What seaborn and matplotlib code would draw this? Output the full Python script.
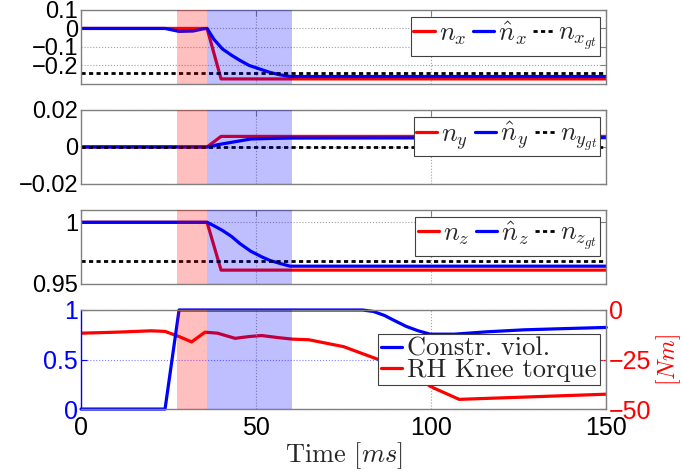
import numpy as np
import pandas as pd
import matplotlib
matplotlib.use("Agg")
import matplotlib.pyplot as plt
import seaborn as sns

# ---- data ----
t_nx = [0, 36, 40, 150]
nx = [0, 0, -0.273, -0.273]
t_nx_hat = [0, 24, 28, 32, 35, 36, 38, 40.4, 43, 45.4, 48, 51.6, 54, 56.6, 59.7, 150]
nx_hat = [0, 0, -0.016, -0.014, -0.002, 0, -0.06, -0.111, -0.145, -0.173, -0.2,
          -0.223, -0.238, -0.25, -0.26, -0.26]
nx_gt = -0.242

t_ny = [0, 36, 40, 150]
ny = [0, 0, 0.0057, 0.0057]
t_ny_hat = [0, 36.5, 39, 43, 48.5, 54, 60, 150]
ny_hat = [0, 0, 0.0012, 0.0025, 0.0043, 0.0046, 0.0048, 0.005]
ny_gt = 0.0

t_nz = [0, 36, 40, 150]
nz = [1, 1, 0.9612, 0.9612]
t_nz_hat = [0, 36, 37.9, 40.4, 43, 45.4, 48.5, 51.6, 54, 56.6, 59.7, 150]
nz_hat = [1, 1, 0.9973, 0.9934, 0.9885, 0.9827, 0.9765, 0.972, 0.969, 0.9668, 0.9644, 0.9644]
nz_gt = 0.969

t_viol = [0, 24, 28, 80.4, 83.5, 86.6, 89.7, 92.9, 96.3, 99.7, 106.6, 116, 126.6, 138, 150]
viol = [0, 0, 1, 1, 0.985, 0.946, 0.89, 0.834, 0.79, 0.756, 0.756, 0.78, 0.8, 0.812, 0.824]

t_tau = [0, 10, 20, 24, 28, 31.6, 35.4, 39, 44, 48, 51.6, 56.6, 60.4, 65, 75, 86.6,
         96.6, 100, 108, 150]
tau = [-11.7, -11.2, -10.5, -10.8, -13.4, -16.1, -11.2, -11.7, -14.3, -13.4, -12.9,
       -14, -14.7, -15, -18.5, -26.1, -34.6, -38.8, -45.1, -42.5]

contact_span = (27.5, 36)
adapt_span = (36, 60.3)

x_ticks = [0, 50, 100, 150]
x_ticklabels = ["0", "50", "100", "150"]
y1_ticks = [-0.2, -0.1, 0, 0.1]
y1_labels = ["\u22120.2", "\u22120.1", "0", "0.1"]
y2_ticks = [-0.02, 0, 0.02]
y2_labels = ["\u22120.02", "0", "0.02"]
y3_ticks = [0.95, 1]
y3_labels = ["0.95", "1"]
y4_ticks = [0, 0.5, 1]
y4_labels = ["0", "0.5", "1"]
y4r_ticks = [-50, -25, 0]
y4r_labels = ["\u221250", "\u221225", "0"]

# ---- style ----
sns.set_style("white")
plt.rcParams["font.family"] = ["Liberation Sans", "DejaVu Sans"]
plt.rcParams["mathtext.fontset"] = "cm"

LW = 2.3
TICK_FS = 17
fig = plt.figure(figsize=(6.83, 4.74), dpi=100)

left, width = 0.1186, 0.769
ax1 = fig.add_axes([left, 0.823, width, 0.156])
ax2 = fig.add_axes([left, 0.612, width, 0.156])
ax3 = fig.add_axes([left, 0.401, width, 0.156])
ax4 = fig.add_axes([left, 0.137, width, 0.209])

panels = [
    (ax1, t_nx, nx, t_nx_hat, nx_hat, nx_gt, "x", (-0.3, 0.1), y1_ticks, y1_labels),
    (ax2, t_ny, ny, t_ny_hat, ny_hat, ny_gt, "y", (-0.02, 0.02), y2_ticks, y2_labels),
    (ax3, t_nz, nz, t_nz_hat, nz_hat, nz_gt, "z", (0.95, 1.01), y3_ticks, y3_labels),
]

for ax, t_a, a, t_b, b, gt, c, ylim, yt, yl in panels:
    ax.grid(True, linestyle=":", color="#a0a0a0", linewidth=0.8)
    sns.lineplot(x=t_a, y=a, ax=ax, color="red", linewidth=LW, label=rf"$n_{c}$")
    sns.lineplot(x=t_b, y=b, ax=ax, color="blue", linewidth=LW, label=rf"$\hat{{n}}_{c}$")
    ax.axhline(gt, color="black", linestyle=(0, (1.5, 1.2)), linewidth=2,
               label=rf"$n_{{{c}_{{gt}}}}$")
    ax.axvspan(*contact_span, color="red", alpha=0.25, lw=0, zorder=3)
    ax.axvspan(*adapt_span, color="blue", alpha=0.25, lw=0, zorder=3)
    ax.set_xlim(0, 150)
    ax.set_ylim(*ylim)
    ax.set_yticks(yt)
    ax.set_yticklabels(yl)
    ax.set_xticks(x_ticks)
    ax.set_xticklabels([])
    ax.tick_params(direction="in", length=4, labelsize=TICK_FS, pad=2,
                   top=True, right=True, colors="#808080", labelcolor="black")
    for s in ax.spines.values():
        s.set_color("#808080")
        s.set_linewidth(1)
    ax.set_xlabel("")
    ax.set_ylabel("")
    leg = ax.legend(loc="upper right", ncol=3, fontsize=19, handlelength=0.8,
                    handletextpad=0.15, columnspacing=0.25, borderpad=0.1,
                    borderaxespad=0.25, fancybox=False, framealpha=1,
                    edgecolor="#404040")
    leg.get_frame().set_linewidth(0.8)

# ---- bottom panel ----
ax4.grid(True, axis="x", linestyle=":", color="#a0a0a0", linewidth=0.8)
ax4.grid(True, axis="y", linestyle=":", color="#8080ff", linewidth=0.8)
sns.lineplot(x=t_viol, y=viol, ax=ax4, color="blue", linewidth=LW, label="Constr. viol.")
ax4.lines[-1].set_clip_on(False)
ax4.axvspan(*contact_span, color="red", alpha=0.25, lw=0, zorder=3)
ax4.axvspan(*adapt_span, color="blue", alpha=0.25, lw=0, zorder=3)
ax4.set_xlim(0, 150)
ax4.set_ylim(0, 1)
ax4.set_yticks(y4_ticks)
ax4.set_yticklabels(y4_labels)
ax4.set_xticks(x_ticks)
ax4.set_xticklabels(x_ticklabels)
ax4.tick_params(direction="in", length=4, labelsize=TICK_FS + 1, pad=2)
ax4.tick_params(axis="y", colors="blue")
ax4.tick_params(axis="x", colors="#808080", labelcolor="black", pad=5)
ax4.set_ylabel("")
ax4.set_xlabel(r"Time [$ms$]", fontfamily="cmr10", fontsize=19, labelpad=0)
for s in ax4.spines.values():
    s.set_color("#808080")
    s.set_linewidth(1)
ax4.spines["left"].set_color("blue")

ax4r = ax4.twinx()
sns.lineplot(x=t_tau, y=tau, ax=ax4r, color="red", linewidth=LW, label="RH Knee torque")
ax4r.set_ylim(-50, 0)
ax4r.set_yticks(y4r_ticks)
ax4r.set_yticklabels(y4r_labels)
ax4r.tick_params(direction="in", length=4, labelsize=TICK_FS + 1, pad=2, colors="red")
ax4r.spines["right"].set_color("#ff8080")
ax4r.set_ylabel(r"$[Nm]$", color="red", fontsize=17, labelpad=2)
for s in ["left", "top", "bottom"]:
    ax4r.spines[s].set_visible(False)
ax4.set_zorder(ax4r.get_zorder() + 1)
ax4.patch.set_visible(False)
if ax4r.get_legend():
    ax4r.get_legend().remove()
if ax4.get_legend():
    ax4.get_legend().remove()

h1, l1 = ax4.get_legend_handles_labels()
h2, l2 = ax4r.get_legend_handles_labels()
leg4 = ax4.legend(h1 + h2, l1 + l2, loc="center right",
                  prop={"family": "cmr10", "size": 19}, handlelength=0.8,
                  handletextpad=0.2, borderpad=0.1, labelspacing=-0.1,
                  borderaxespad=0.25, fancybox=False, framealpha=1,
                  edgecolor="#404040")
leg4.get_frame().set_linewidth(0.8)

fig.savefig("out.png", dpi=100)
